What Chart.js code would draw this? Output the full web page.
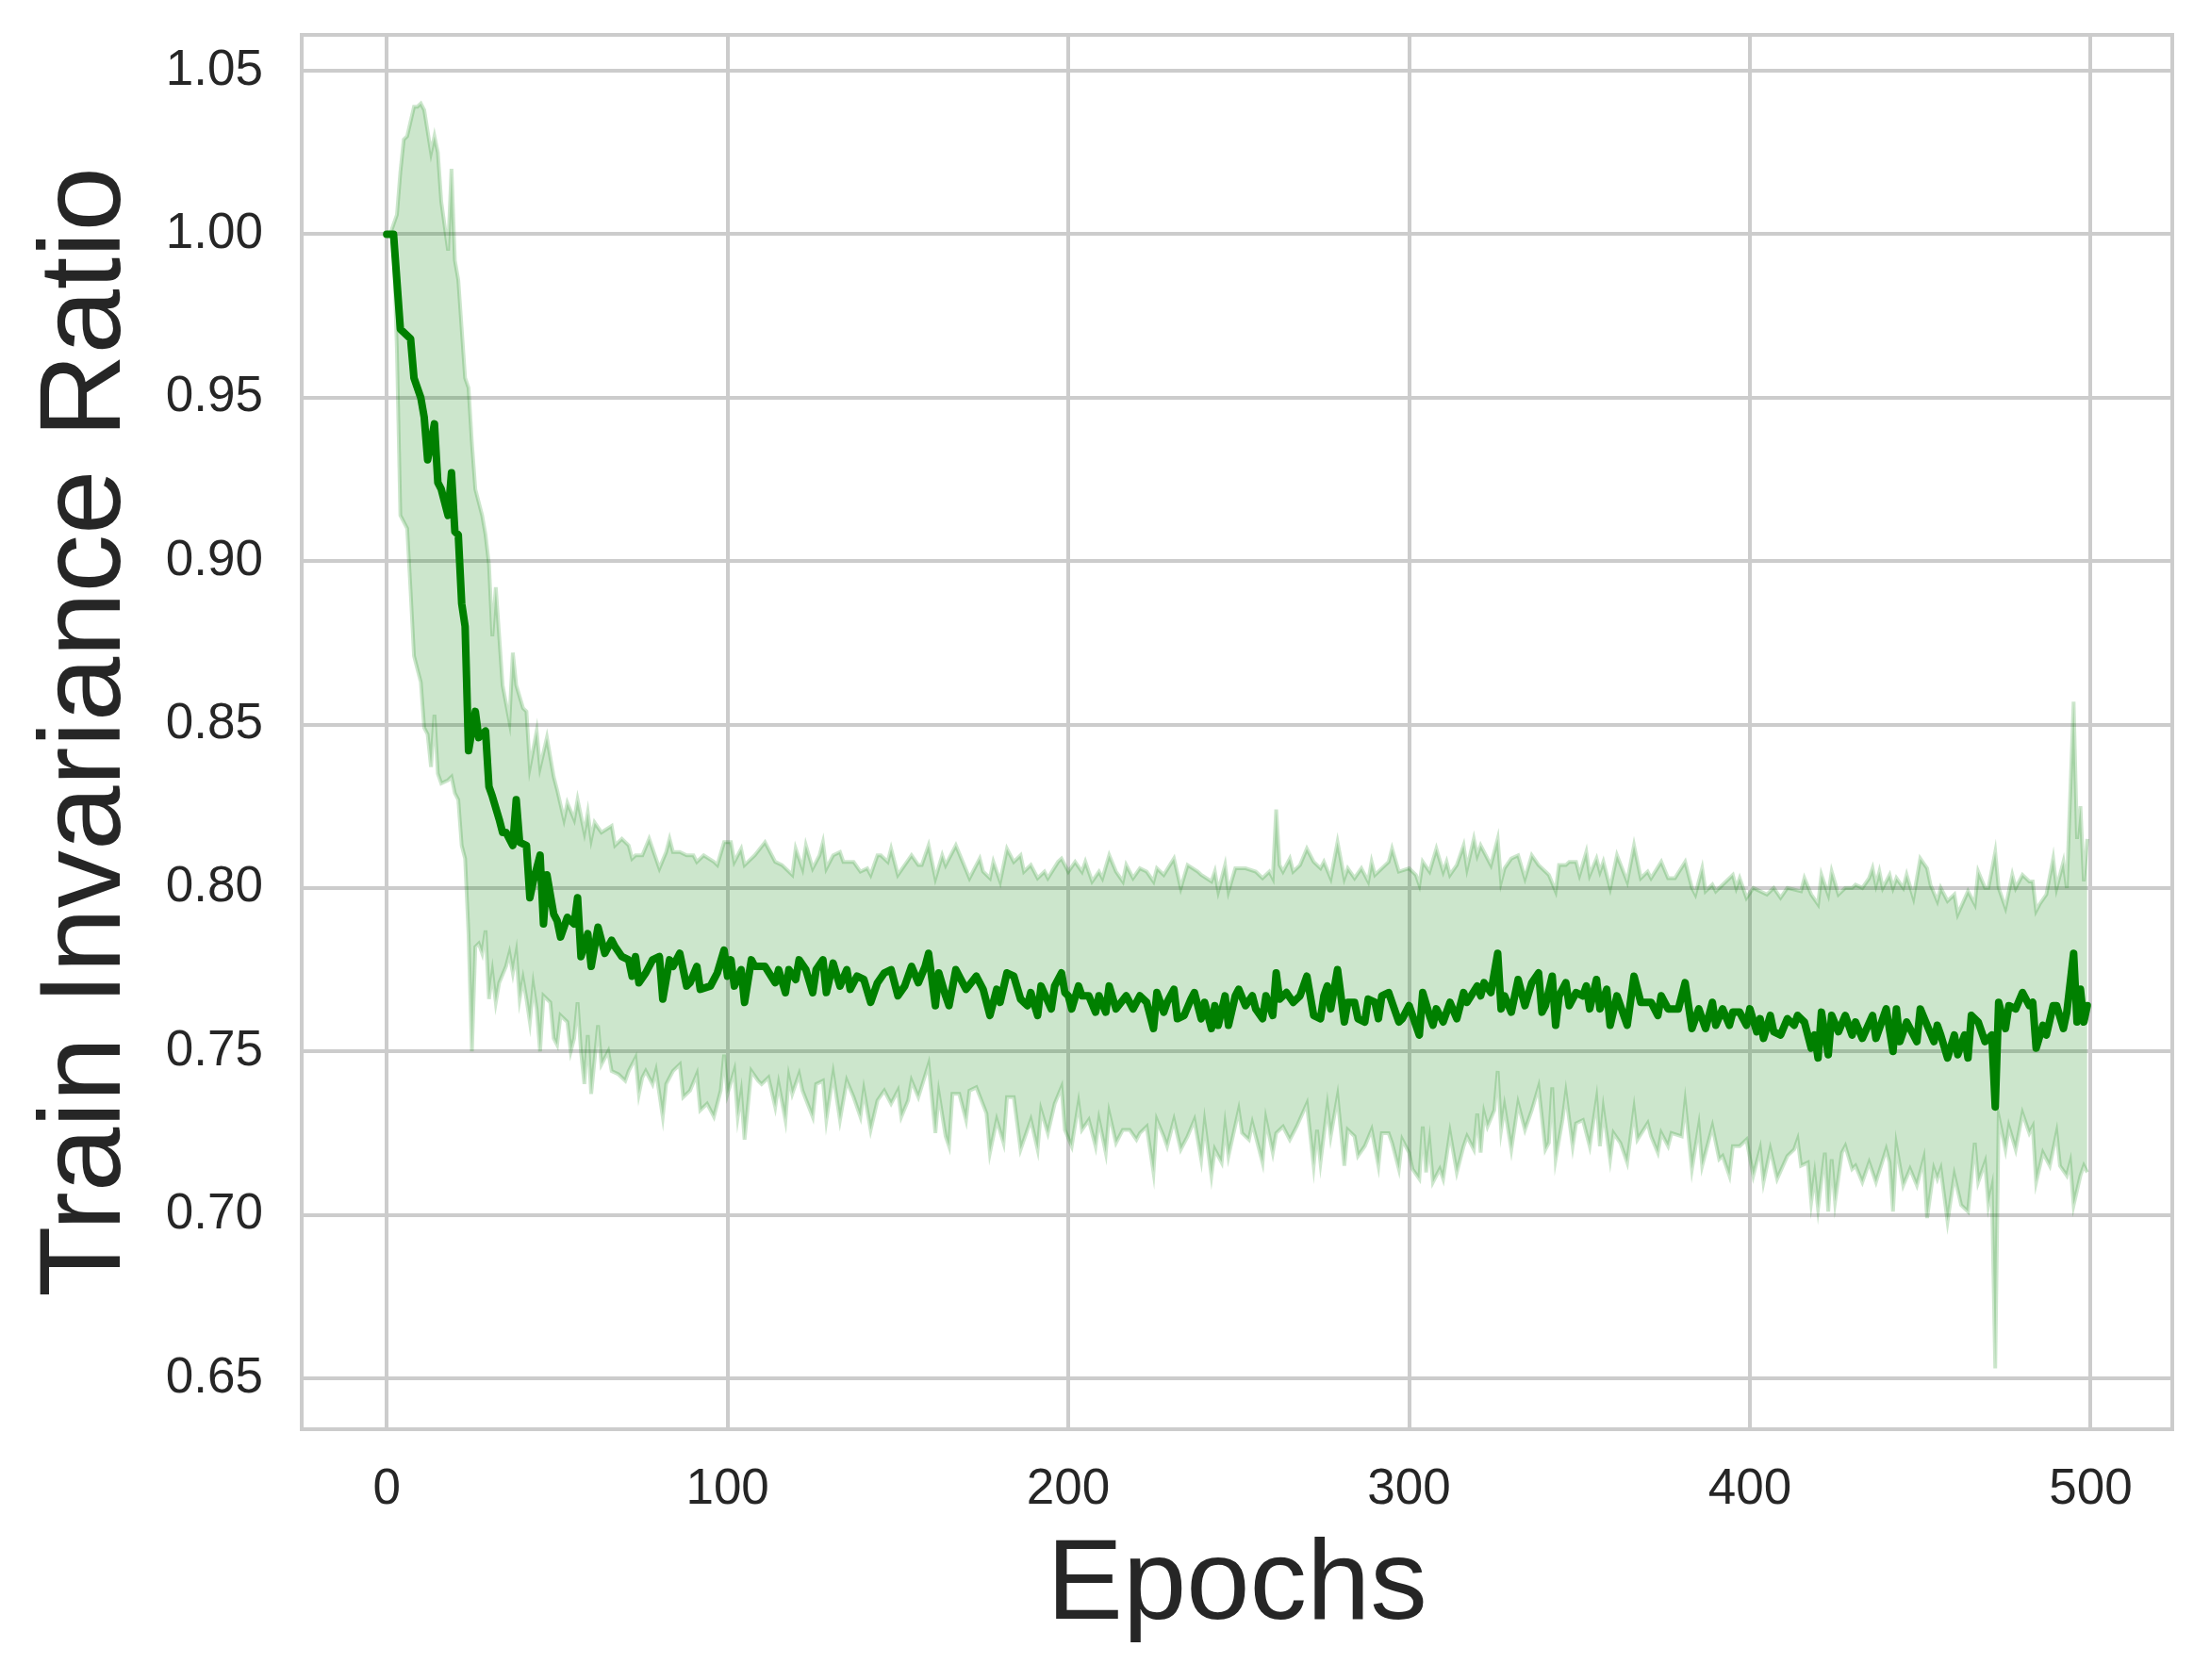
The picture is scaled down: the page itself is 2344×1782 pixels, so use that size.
<!DOCTYPE html>
<html>
<head>
<meta charset="utf-8">
<script src="https://cdn.jsdelivr.net/npm/chart.js@4.4.1/dist/chart.umd.min.js"></script>
<style>
  html, body { margin: 0; padding: 0; background: #ffffff; }
  #wrap { position: relative; width: 2344px; height: 1782px; }
</style>
</head>
<body>
<div id="wrap"><canvas id="c"></canvas></div>
<script>
// ---- data ----
const xTickValues = [0, 100, 200, 300, 400, 500];
const yTickValues = [0.65, 0.70, 0.75, 0.80, 0.85, 0.90, 0.95, 1.00, 1.05];
const xLabel = 'Epochs';
const yLabel = 'Train Invariance Ratio';

// [epoch, mean ratio]
const meanPoints = [[0,1.000],[1,1.000],[2,1.000],[4,0.971],[7,0.968],[8,0.956],[10,0.950],[11,0.944],[12,0.931],[14,0.942],[15,0.924],[16,0.922],[18,0.914],[19,0.927],[20,0.909],[21,0.908],[22,0.887],[23,0.880],[24,0.842],[26,0.854],[27,0.846],[29,0.848],[30,0.831],[31,0.828],[33,0.821],[34,0.817],[35,0.817],[37,0.813],[38,0.827],[39,0.814],[41,0.813],[42,0.797],[43,0.802],[45,0.810],[46,0.789],[47,0.804],[49,0.792],[50,0.790],[51,0.785],[53,0.791],[55,0.789],[56,0.797],[57,0.779],[59,0.786],[60,0.776],[62,0.788],[64,0.780],[66,0.784],[67,0.782],[69,0.779],[71,0.778],[72,0.773],[73,0.779],[74,0.771],[76,0.774],[78,0.778],[80,0.779],[81,0.766],[83,0.778],[84,0.776],[86,0.780],[88,0.770],[89,0.771],[91,0.776],[92,0.769],[95,0.770],[96,0.772],[97,0.774],[99,0.781],[100,0.773],[101,0.778],[102,0.770],[104,0.775],[105,0.765],[107,0.778],[108,0.776],[111,0.776],[114,0.771],[115,0.775],[117,0.768],[118,0.775],[120,0.772],[121,0.778],[123,0.775],[125,0.768],[126,0.775],[128,0.778],[129,0.768],[131,0.777],[133,0.770],[135,0.775],[136,0.769],[138,0.773],[140,0.772],[142,0.765],[144,0.771],[146,0.774],[148,0.775],[150,0.767],[152,0.770],[154,0.776],[156,0.771],[158,0.776],[159,0.780],[161,0.764],[162,0.774],[164,0.767],[165,0.764],[167,0.775],[170,0.769],[173,0.773],[175,0.769],[177,0.761],[179,0.769],[180,0.765],[182,0.774],[184,0.773],[186,0.766],[188,0.764],[189,0.768],[191,0.761],[192,0.770],[195,0.763],[196,0.770],[198,0.774],[199,0.768],[200,0.767],[201,0.763],[203,0.770],[204,0.767],[206,0.767],[208,0.762],[209,0.767],[211,0.762],[212,0.770],[214,0.763],[217,0.767],[219,0.763],[221,0.767],[223,0.765],[225,0.757],[226,0.768],[228,0.762],[229,0.765],[231,0.769],[232,0.760],[234,0.761],[236,0.766],[237,0.768],[239,0.760],[240,0.765],[242,0.757],[243,0.764],[244,0.758],[246,0.767],[247,0.758],[249,0.767],[250,0.769],[252,0.764],[254,0.767],[255,0.763],[257,0.760],[258,0.767],[260,0.761],[261,0.774],[262,0.766],[264,0.768],[266,0.765],[268,0.767],[270,0.773],[272,0.761],[274,0.760],[275,0.767],[276,0.770],[277,0.763],[279,0.775],[281,0.759],[282,0.765],[284,0.765],[285,0.760],[287,0.759],[288,0.766],[290,0.765],[291,0.760],[292,0.767],[294,0.768],[295,0.765],[297,0.759],[298,0.760],[300,0.764],[301,0.761],[303,0.755],[304,0.768],[306,0.761],[307,0.758],[308,0.763],[310,0.759],[311,0.762],[312,0.765],[314,0.760],[316,0.768],[317,0.765],[320,0.770],[321,0.767],[322,0.771],[324,0.768],[326,0.780],[327,0.763],[328,0.767],[330,0.762],[332,0.772],[334,0.764],[336,0.771],[338,0.774],[339,0.762],[340,0.764],[342,0.773],[343,0.758],[344,0.767],[346,0.771],[347,0.764],[349,0.768],[351,0.767],[352,0.770],[353,0.763],[355,0.772],[356,0.763],[358,0.769],[359,0.758],[361,0.767],[364,0.758],[366,0.773],[368,0.765],[371,0.765],[373,0.761],[374,0.767],[376,0.763],[379,0.763],[381,0.771],[383,0.757],[385,0.763],[387,0.757],[389,0.765],[390,0.758],[392,0.763],[394,0.758],[395,0.762],[397,0.762],[399,0.758],[400,0.763],[402,0.756],[403,0.760],[404,0.754],[406,0.761],[407,0.756],[409,0.755],[411,0.760],[413,0.758],[414,0.761],[416,0.759],[418,0.751],[419,0.755],[420,0.748],[421,0.762],[423,0.749],[424,0.761],[426,0.756],[428,0.761],[430,0.755],[431,0.759],[433,0.754],[436,0.761],[437,0.754],[439,0.760],[440,0.763],[442,0.750],[443,0.763],[444,0.753],[446,0.759],[449,0.753],[450,0.763],[452,0.758],[454,0.753],[455,0.758],[456,0.755],[458,0.748],[460,0.755],[461,0.749],[463,0.755],[464,0.748],[465,0.761],[467,0.759],[469,0.753],[471,0.755],[472,0.733],[473,0.765],[475,0.757],[476,0.764],[478,0.763],[480,0.768],[482,0.764],[483,0.765],[484,0.751],[486,0.758],[487,0.755],[489,0.764],[490,0.764],[492,0.757],[493,0.762],[495,0.780],[496,0.759],[497,0.769],[498,0.759],[499,0.764]];

// [epoch, upper edge of the band]
const upperPoints = [[0,1.000],[1,1.000],[3,1.006],[4,1.019],[5,1.029],[6,1.030],[8,1.039],[9,1.039],[10,1.040],[11,1.038],[13,1.025],[14,1.030],[15,1.025],[16,1.010],[18,0.995],[19,1.020],[20,0.992],[21,0.986],[23,0.956],[24,0.953],[25,0.936],[26,0.922],[28,0.914],[29,0.908],[30,0.899],[31,0.877],[32,0.892],[34,0.862],[36,0.851],[37,0.872],[38,0.862],[40,0.855],[41,0.854],[42,0.837],[44,0.848],[45,0.837],[47,0.846],[49,0.834],[50,0.830],[52,0.821],[53,0.826],[55,0.821],[56,0.827],[58,0.817],[59,0.823],[60,0.815],[61,0.820],[63,0.817],[66,0.819],[67,0.813],[69,0.815],[71,0.813],[72,0.809],[73,0.810],[75,0.810],[77,0.815],[78,0.812],[80,0.806],[82,0.811],[83,0.815],[84,0.811],[86,0.811],[88,0.810],[90,0.810],[91,0.808],[93,0.810],[96,0.808],[97,0.807],[99,0.814],[101,0.814],[102,0.808],[104,0.812],[105,0.807],[108,0.810],[111,0.814],[114,0.808],[116,0.807],[119,0.804],[120,0.812],[122,0.806],[123,0.813],[125,0.806],[127,0.810],[128,0.814],[129,0.806],[131,0.810],[133,0.811],[134,0.808],[137,0.808],[139,0.805],[141,0.806],[142,0.804],[144,0.810],[145,0.810],[147,0.808],[148,0.812],[150,0.804],[152,0.807],[154,0.810],[156,0.807],[157,0.807],[159,0.813],[161,0.803],[163,0.810],[164,0.807],[167,0.813],[169,0.808],[171,0.803],[173,0.807],[174,0.809],[175,0.805],[177,0.803],[178,0.808],[180,0.802],[182,0.812],[184,0.808],[186,0.810],[187,0.805],[189,0.807],[191,0.803],[193,0.805],[194,0.803],[197,0.808],[198,0.809],[200,0.805],[202,0.808],[204,0.805],[205,0.808],[207,0.802],[209,0.805],[210,0.803],[212,0.810],[214,0.805],[216,0.802],[217,0.807],[219,0.803],[221,0.806],[223,0.805],[225,0.802],[226,0.806],[228,0.804],[231,0.809],[233,0.800],[235,0.807],[238,0.805],[239,0.804],[242,0.802],[243,0.805],[244,0.799],[246,0.807],[247,0.799],[249,0.806],[252,0.806],[255,0.805],[257,0.803],[259,0.805],[260,0.803],[261,0.824],[262,0.807],[263,0.805],[265,0.809],[266,0.805],[268,0.807],[270,0.812],[272,0.808],[274,0.806],[275,0.808],[277,0.803],[279,0.814],[281,0.803],[282,0.806],[284,0.803],[286,0.806],[288,0.802],[289,0.808],[290,0.804],[292,0.806],[294,0.808],[295,0.812],[297,0.805],[300,0.806],[302,0.804],[303,0.801],[304,0.808],[306,0.805],[308,0.812],[310,0.805],[311,0.808],[312,0.804],[314,0.807],[316,0.813],[317,0.806],[319,0.815],[320,0.810],[321,0.813],[322,0.811],[324,0.807],[326,0.815],[327,0.802],[328,0.806],[330,0.809],[332,0.810],[334,0.803],[336,0.810],[338,0.807],[340,0.805],[341,0.804],[343,0.799],[344,0.807],[346,0.807],[347,0.808],[349,0.808],[350,0.804],[352,0.811],[353,0.804],[355,0.809],[356,0.805],[357,0.808],[359,0.800],[361,0.810],[364,0.802],[366,0.813],[368,0.803],[370,0.805],[371,0.803],[374,0.808],[376,0.803],[378,0.803],[381,0.808],[383,0.800],[384,0.798],[386,0.806],[387,0.799],[389,0.801],[390,0.799],[393,0.802],[395,0.804],[396,0.800],[397,0.803],[399,0.797],[401,0.800],[405,0.798],[407,0.800],[409,0.797],[411,0.800],[415,0.799],[416,0.803],[418,0.798],[420,0.795],[421,0.804],[423,0.798],[424,0.805],[426,0.798],[428,0.800],[430,0.800],[431,0.801],[433,0.800],[435,0.803],[436,0.806],[437,0.801],[438,0.805],[439,0.800],[441,0.804],[442,0.800],[443,0.803],[445,0.800],[446,0.804],[448,0.797],[450,0.809],[452,0.806],[453,0.801],[455,0.796],[456,0.800],[458,0.796],[460,0.798],[461,0.792],[464,0.799],[466,0.795],[467,0.805],[469,0.800],[470,0.800],[472,0.811],[473,0.800],[475,0.794],[477,0.804],[478,0.800],[480,0.804],[482,0.802],[483,0.802],[484,0.793],[485,0.795],[487,0.798],[489,0.809],[490,0.800],[492,0.808],[493,0.800],[495,0.857],[496,0.815],[497,0.825],[498,0.802],[499,0.815]];

// [epoch, lower edge of the band]
const lowerPoints = [[0,1.000],[1,1.000],[2,0.998],[3,0.964],[4,0.914],[5,0.912],[6,0.910],[7,0.891],[8,0.871],[10,0.863],[11,0.849],[12,0.847],[13,0.837],[14,0.853],[15,0.835],[16,0.832],[18,0.833],[19,0.834],[20,0.829],[21,0.827],[22,0.813],[23,0.809],[24,0.786],[25,0.750],[26,0.782],[27,0.783],[28,0.780],[29,0.787],[30,0.766],[31,0.774],[32,0.765],[33,0.771],[35,0.776],[36,0.780],[37,0.774],[38,0.780],[39,0.766],[40,0.772],[41,0.766],[42,0.759],[43,0.770],[44,0.763],[45,0.750],[46,0.767],[48,0.765],[49,0.754],[50,0.752],[51,0.761],[53,0.759],[54,0.750],[55,0.754],[56,0.765],[57,0.750],[58,0.740],[59,0.755],[60,0.737],[62,0.758],[63,0.746],[65,0.750],[66,0.744],[68,0.743],[70,0.741],[71,0.744],[73,0.748],[74,0.737],[75,0.742],[76,0.744],[78,0.740],[79,0.744],[81,0.730],[82,0.740],[84,0.744],[86,0.746],[87,0.736],[89,0.738],[91,0.743],[92,0.732],[94,0.734],[96,0.730],[98,0.738],[99,0.749],[100,0.737],[102,0.744],[103,0.730],[104,0.737],[105,0.723],[107,0.744],[109,0.741],[110,0.740],[112,0.742],[114,0.733],[115,0.740],[117,0.729],[118,0.742],[119,0.737],[121,0.743],[122,0.738],[125,0.730],[126,0.740],[128,0.741],[129,0.729],[131,0.743],[133,0.729],[135,0.741],[137,0.736],[139,0.730],[140,0.738],[142,0.726],[144,0.735],[146,0.738],[148,0.734],[150,0.738],[151,0.730],[153,0.735],[154,0.741],[156,0.736],[159,0.746],[161,0.725],[162,0.737],[164,0.724],[165,0.721],[166,0.737],[168,0.737],[170,0.729],[171,0.738],[173,0.739],[176,0.731],[177,0.719],[179,0.729],[181,0.722],[182,0.736],[184,0.736],[186,0.720],[188,0.726],[189,0.729],[191,0.720],[192,0.732],[194,0.725],[196,0.734],[198,0.739],[199,0.726],[201,0.721],[203,0.734],[204,0.726],[206,0.729],[208,0.721],[209,0.729],[211,0.719],[212,0.731],[214,0.722],[216,0.726],[218,0.726],[220,0.723],[221,0.725],[223,0.727],[225,0.713],[226,0.729],[228,0.724],[229,0.721],[231,0.729],[233,0.720],[235,0.724],[237,0.729],[239,0.717],[240,0.728],[242,0.712],[243,0.720],[245,0.716],[246,0.727],[247,0.718],[250,0.732],[251,0.725],[253,0.723],[254,0.728],[257,0.716],[258,0.729],[260,0.719],[261,0.725],[263,0.727],[265,0.723],[267,0.727],[270,0.734],[272,0.715],[273,0.726],[274,0.716],[276,0.733],[277,0.724],[279,0.736],[281,0.715],[282,0.726],[284,0.724],[285,0.718],[287,0.721],[289,0.726],[291,0.715],[292,0.725],[294,0.725],[295,0.722],[297,0.714],[298,0.723],[300,0.719],[301,0.714],[303,0.711],[304,0.727],[305,0.713],[306,0.722],[307,0.710],[309,0.714],[310,0.711],[312,0.725],[314,0.713],[316,0.721],[317,0.724],[319,0.720],[320,0.731],[321,0.719],[322,0.731],[323,0.727],[325,0.732],[326,0.744],[327,0.726],[328,0.733],[330,0.720],[332,0.734],[334,0.726],[336,0.732],[338,0.739],[340,0.720],[341,0.722],[342,0.739],[343,0.717],[345,0.729],[346,0.737],[348,0.721],[349,0.728],[351,0.729],[353,0.721],[355,0.735],[356,0.721],[357,0.732],[359,0.717],[360,0.725],[362,0.722],[364,0.716],[366,0.732],[367,0.723],[370,0.728],[371,0.724],[373,0.719],[374,0.725],[376,0.721],[377,0.725],[380,0.724],[381,0.734],[383,0.714],[385,0.727],[386,0.715],[389,0.727],[391,0.717],[392,0.718],[394,0.712],[395,0.721],[397,0.721],[399,0.723],[401,0.712],[403,0.720],[404,0.710],[406,0.720],[408,0.711],[411,0.718],[413,0.720],[414,0.723],[415,0.715],[417,0.716],[418,0.704],[419,0.712],[420,0.702],[422,0.719],[423,0.701],[424,0.717],[425,0.704],[427,0.719],[428,0.721],[430,0.714],[431,0.715],[433,0.710],[435,0.716],[437,0.710],[440,0.720],[441,0.716],[442,0.701],[443,0.721],[445,0.709],[447,0.714],[449,0.709],[451,0.717],[452,0.699],[454,0.714],[455,0.711],[456,0.714],[458,0.698],[460,0.712],[462,0.703],[464,0.701],[466,0.722],[467,0.710],[469,0.716],[470,0.703],[471,0.708],[472,0.653],[473,0.730],[475,0.720],[476,0.727],[478,0.720],[480,0.731],[482,0.725],[483,0.727],[484,0.710],[486,0.719],[488,0.715],[490,0.725],[491,0.715],[493,0.712],[494,0.716],[495,0.703],[497,0.712],[498,0.715],[499,0.713]];

// ---- chart ----
const toXY = pts => pts.map(p => ({x: p[0], y: p[1]}));
const FONT = '"Liberation Sans", Arial, "DejaVu Sans", sans-serif';
const TEXT = '#262626';
const GRID = '#cccccc';

const framePlugin = {
  id: 'frame',
  afterDatasetsDraw(chart) {
    const {ctx, chartArea: a} = chart;
    ctx.save();
    ctx.strokeStyle = GRID;
    ctx.lineWidth = 4;
    ctx.strokeRect(a.left, a.top, a.right - a.left, a.bottom - a.top);
    ctx.restore();
  }
};

new Chart(document.getElementById('c'), {
  type: 'line',
  data: {
    datasets: [
      {
        label: 'lower',
        data: toXY(lowerPoints),
        borderColor: 'rgba(0,128,0,0.2)',
        borderWidth: 4,
        pointRadius: 0,
        fill: false,
        order: 2
      },
      {
        label: 'upper',
        data: toXY(upperPoints),
        borderColor: 'rgba(0,128,0,0.2)',
        borderWidth: 4,
        backgroundColor: 'rgba(0,128,0,0.2)',
        pointRadius: 0,
        fill: '-1',
        order: 1
      },
      {
        label: 'mean',
        data: toXY(meanPoints),
        borderColor: '#008000',
        borderWidth: 8,
        pointRadius: 0,
        fill: false,
        borderJoinStyle: 'round',
        borderCapStyle: 'round',
        order: 0
      }
    ]
  },
  options: {
    responsive: true,
    maintainAspectRatio: false,
    animation: false,
    devicePixelRatio: 1,
    layout: { padding: { top: 37, right: 40, left: 0, bottom: 0 } },
    elements: { line: { tension: 0 } },
    plugins: {
      legend: { display: false },
      tooltip: { enabled: false }
    },
    scales: {
      x: {
        type: 'linear',
        min: -24.95,
        max: 523.95,
        afterBuildTicks: s => { s.ticks = xTickValues.map(v => ({value: v})); },
        afterFit: s => { s.height = 266; s.paddingLeft = 0; s.paddingRight = 0; },
        grid: { color: GRID, lineWidth: 4, drawTicks: false },
        border: { display: false },
        ticks: {
          padding: 33,
          maxRotation: 0,
          autoSkip: false,
          color: TEXT,
          font: { family: FONT, size: 53 },
          callback: v => String(v)
        },
        title: {
          display: true,
          text: xLabel,
          color: TEXT,
          font: { family: FONT, size: 121 },
          padding: { top: 0, bottom: 26 }
        }
      },
      y: {
        type: 'linear',
        min: 0.6344,
        max: 1.061,
        afterBuildTicks: s => { s.ticks = yTickValues.map(v => ({value: v})); },
        afterFit: s => { s.width = 320; s.paddingTop = 0; s.paddingBottom = 0; },
        grid: { color: GRID, lineWidth: 4, drawTicks: false },
        border: { display: false },
        ticks: {
          padding: 41,
          autoSkip: false,
          color: TEXT,
          font: { family: FONT, size: 53 },
          callback: v => Number(v).toFixed(2)
        },
        title: {
          display: true,
          text: yLabel,
          color: TEXT,
          font: { family: FONT, size: 123 },
          padding: { top: 19, bottom: 0 }
        }
      }
    }
  },
  plugins: [framePlugin]
});
</script>
</body>
</html>
